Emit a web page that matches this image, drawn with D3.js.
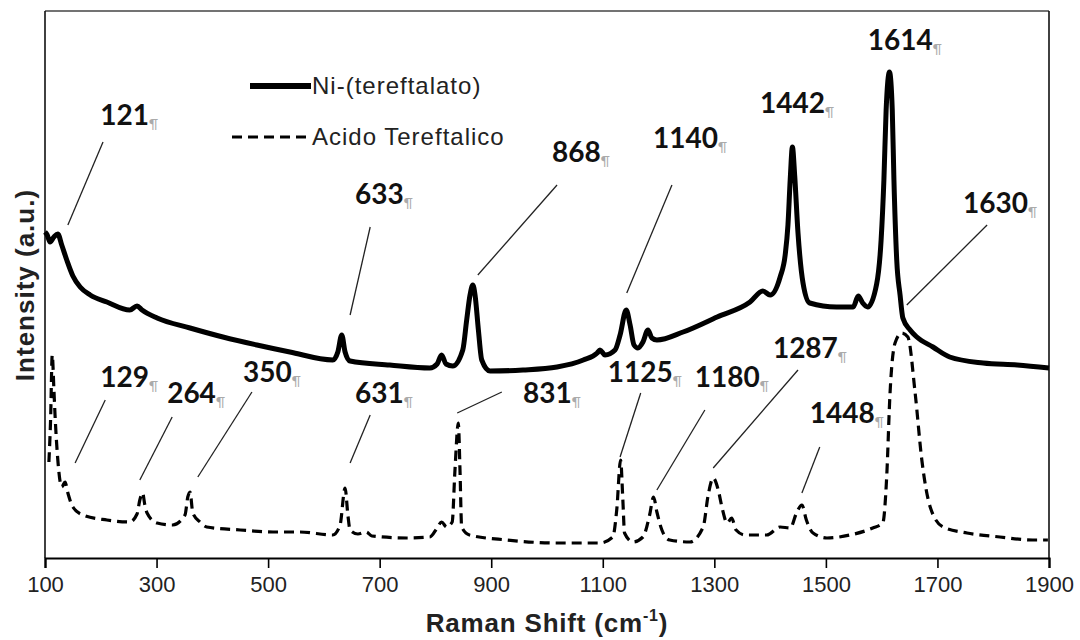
<!DOCTYPE html>
<html><head><meta charset="utf-8">
<script src="https://cdn.jsdelivr.net/npm/d3@7"></script>
<style>body{margin:0;background:#fff}</style>
</head><body><svg id="c" width="1080" height="640"></svg>
<script>
// ---- data ----
const seriesNames = ["Ni-(tereftalato)", "Acido Tereftalico"];
const xTicks = [100, 300, 500, 700, 900, 1100, 1300, 1500, 1700, 1900];

const niShift = [100,104,109,116,123,130,139,150,163,181,211,252,265,274,301,360,419,480,539,616,625,632,638,647,718,790,803,811,819,831,849,856,862,867,871,877,883,898,957,1018,1065,1090,1095,1104,1122,1131,1142,1149,1156,1163,1172,1181,1188,1197,1244,1305,1364,1387,1400,1418,1427,1432,1436,1440,1444,1450,1459,1471,1519,1549,1558,1566,1575,1591,1599,1604,1608,1614,1619,1622,1627,1633,1638,1651,1663,1692,1722,1782,1843,1900];
const niIntensity = [326,323,316,321,324,313,298,282,271,263,256,248,252,248,240,230,221,213,206,198,206,223,206,197,193,190,194,203,194,192,208,238,263,273,263,228,198,187,188,191,198,205,208,203,208,223,248,233,213,210,216,228,220,218,226,241,256,267,263,281,303,333,378,411,383,325,275,255,251,251,262,255,251,274,318,378,448,486,448,378,298,263,240,228,221,211,201,195,193,190];

const acShift = [107,110,113,116,118,123,130,136,141,150,168,211,252,265,270,275,279,283,301,329,351,356,360,365,378,390,450,509,557,616,629,638,643,647,661,676,686,749,790,803,811,820,830,835,841,844,847,861,928,1018,1095,1118,1125,1132,1136,1139,1154,1172,1184,1191,1197,1206,1220,1256,1280,1289,1298,1307,1314,1323,1331,1339,1355,1394,1418,1436,1448,1457,1465,1477,1502,1543,1584,1602,1609,1615,1624,1636,1647,1660,1672,1687,1710,1753,1812,1871,1898];
const acIntensity = [96,138,203,168,143,98,71,76,65,51,43,38,36,44,58,65,53,45,35,33,43,61,66,45,36,31,28,26,26,23,33,70,43,28,24,26,22,20,21,30,36,31,36,88,135,88,31,23,18,15,15,21,48,98,58,25,16,21,43,61,46,28,18,16,31,63,80,68,50,35,40,28,23,23,31,30,46,53,38,25,20,23,30,35,81,165,215,225,221,165,98,51,31,25,21,18,18];

// annotations: label, text anchor (shift, intensity), leader line (shift1,int1)->(shift2,int2)
const niLabels    = ["121","633","868","1140","1442","1614","1630"];
const niTextShift = [199,656,1009,1190,1382,1575,1746];
const niTextInt   = [433,354,396,410,445,508,345];
const niLine      = [[204,416,141,333],[683,331,647,243],[1018,373,876,283],[1224,373,1143,265],null,null,[1789,333,1645,253]];

const acLabels    = ["129","264","350","631","831","1125","1180","1287","1448"];
const acTextShift = [199,319,455,656,957,1109,1265,1405,1471];
const acTextInt   = [171,155,176,155,155,176,171,200,135];
const acLine      = [[208,158,154,95],[328,141,270,78],[471,166,374,81],[683,143,647,95],[919,166,839,145],[1168,165,1131,101],[1283,148,1197,68],[1450,188,1298,90],[1489,111,1457,65]];

// ---- drawing ----
const svg = d3.select("#c");
svg.append("rect").attr("width",1080).attr("height",640).attr("fill","#fff");

const x = d3.scaleLinear().domain([100,1900]).range([45,1049]);
const y = d3.scaleLinear().domain([0,547]).range([558,11]);

// frame
svg.append("line").attr("x1",x(100)).attr("x2",x(1900)).attr("y1",y(547)).attr("y2",y(547)).attr("stroke","#444").attr("stroke-width",1.6);
svg.append("line").attr("x1",x(100)).attr("x2",x(100)).attr("y1",y(547)).attr("y2",y(0)).attr("stroke","#111").attr("stroke-width",1.6);
svg.append("line").attr("x1",x(1900)).attr("x2",x(1900)).attr("y1",y(547)).attr("y2",y(0)).attr("stroke","#111").attr("stroke-width",1.6);

// x axis
const xAxis = d3.axisBottom(x).tickValues(xTicks).tickSize(10).tickPadding(8).tickFormat(d3.format("d"));
const gx = svg.append("g").attr("transform",`translate(0,${y(0)})`).call(xAxis);
gx.select(".domain").attr("stroke","#000").attr("stroke-width",2.2);
gx.selectAll(".tick line").attr("stroke","#000").attr("stroke-width",1.6);
gx.selectAll(".tick text").attr("font-family","'Liberation Sans', Arial, sans-serif").attr("font-size",22).attr("fill","#222");

// axis titles
const xt = svg.append("text").attr("x",547).attr("y",632).attr("text-anchor","middle")
  .attr("font-family","'Liberation Sans', Arial, sans-serif").attr("font-weight","bold").attr("font-size",26)
  .attr("letter-spacing",0.8).attr("fill","#222");
xt.append("tspan").text("Raman Shift (cm");
xt.append("tspan").text("-1").attr("font-size",16).attr("dy",-11);
xt.append("tspan").text(")").attr("dy",11);

svg.append("text").attr("transform","translate(34,285) rotate(-90)").attr("text-anchor","middle")
  .attr("font-family","'Liberation Sans', Arial, sans-serif").attr("font-weight","bold").attr("font-size",26)
  .attr("letter-spacing",1).attr("fill","#222")
  .text("Intensity (a.u.)");

// curves
const line = d3.line().x(d=>x(d[0])).y(d=>y(d[1])).curve(d3.curveMonotoneX);
const niData = niShift.map((s,i)=>[s,niIntensity[i]]);
const acData = acShift.map((s,i)=>[s,acIntensity[i]]);

svg.append("path").datum(acData).attr("d",line).attr("fill","none").attr("stroke","#000")
  .attr("stroke-width",3.2).attr("stroke-dasharray","10,6");
svg.append("path").datum(niData).attr("d",line).attr("fill","none").attr("stroke","#000")
  .attr("stroke-width",5).attr("stroke-linejoin","round");

// annotations
function annotate(labels, tx, ty, lines){
  labels.forEach((lab,i)=>{
    const l = lines[i];
    if (l) svg.append("line").attr("x1",x(l[0])).attr("y1",y(l[1])).attr("x2",x(l[2])).attr("y2",y(l[3]))
      .attr("stroke","#222").attr("stroke-width",1.3);
    const t = svg.append("text").attr("x",x(tx[i])).attr("y",y(ty[i]))
      .attr("font-family","Lato, 'Open Sans', sans-serif").attr("font-weight","bold").attr("font-size",28).attr("fill","#111");
    t.append("tspan").text(lab);
    t.append("tspan").text("¶").attr("font-size",13).attr("font-weight","normal").attr("fill","#aaa").attr("dy",4);
  });
}
annotate(niLabels, niTextShift, niTextInt, niLine);
annotate(acLabels, acTextShift, acTextInt, acLine);

// legend
const lg = svg.append("g");
lg.append("line").attr("x1",250).attr("x2",311).attr("y1",86).attr("y2",86).attr("stroke","#000").attr("stroke-width",6);
lg.append("text").attr("x",312).attr("y",94).attr("font-family","'Liberation Sans', Arial, sans-serif").attr("font-size",24)
  .attr("letter-spacing",1).attr("fill","#222").text(seriesNames[0]);
lg.append("line").attr("x1",232).attr("x2",307).attr("y1",137).attr("y2",137).attr("stroke","#000").attr("stroke-width",3.2).attr("stroke-dasharray","10,6");
lg.append("text").attr("x",312).attr("y",145).attr("font-family","'Liberation Sans', Arial, sans-serif").attr("font-size",24)
  .attr("letter-spacing",1).attr("fill","#222").text(seriesNames[1]);
</script></body></html>
